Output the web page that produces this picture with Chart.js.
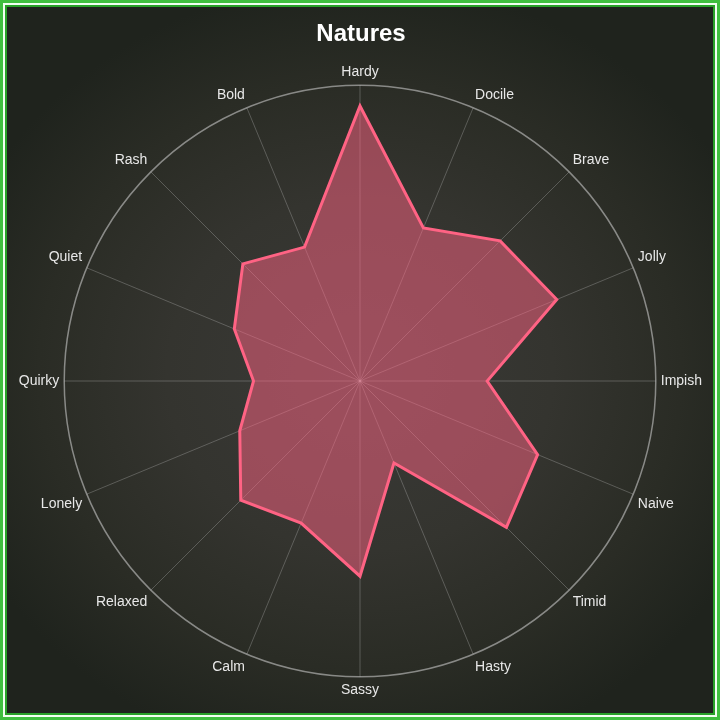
<!DOCTYPE html>
<html>
<head>
<meta charset="utf-8">
<script src="https://cdn.jsdelivr.net/npm/chart.js@4.4.1/dist/chart.umd.min.js"></script>
<style>
    html, body {
        margin: 0;
        padding: 0;
        width: 720px;
        height: 720px;
        overflow: hidden;
        background: #1f231d;
    }
    .frame {
        position: relative;
        width: 720px;
        height: 720px;
        box-sizing: border-box;
        border: 3px solid #3fbf3f;
        box-shadow: inset 0 0 0 2px #f2fff2, inset 0 0 0 4px #28a028;
        background: radial-gradient(ellipse 60% 55% at 50% 52%, #3a3a37 0%, #34342f 45%, #2a2c25 75%, #1f231d 100%);
    }
    .frame canvas {
        position: absolute;
        left: -2px;
        top: -3px;
    }
</style>
</head>
<body>
<div class="frame">
    <canvas id="naturesChart" width="720" height="720"></canvas>
</div>
<script>
// Chart data
const natureLabels = ['Hardy', 'Docile', 'Brave', 'Jolly', 'Impish', 'Naive', 'Timid', 'Hasty',
    'Sassy', 'Calm', 'Relaxed', 'Lonely', 'Quirky', 'Quiet', 'Rash', 'Bold'];
const natureValues = [93, 56, 67, 72, 43, 65, 70, 30, 66, 52, 57, 44, 36, 46, 56, 49];
const scaleMax = 100;

const ctx = document.getElementById('naturesChart');

new Chart(ctx, {
    type: 'radar',
    data: {
        labels: natureLabels,
        datasets: [{
            label: 'Natures',
            data: natureValues,
            borderColor: 'rgba(255, 99, 132, 1)',
            backgroundColor: 'rgba(255, 99, 132, 0.5)',
            borderWidth: 3,
            pointRadius: 0,
            pointHoverRadius: 0,
            fill: true
        }]
    },
    options: {
        responsive: false,
        animation: false,
        layout: {
            padding: { top: 6, bottom: 20, left: 18, right: 18 }
        },
        plugins: {
            legend: { display: false },
            tooltip: { enabled: false },
            title: {
                display: true,
                text: 'Natures',
                color: '#ffffff',
                padding: { top: 14, bottom: 14 },
                font: {
                    family: 'Liberation Sans',
                    size: 24,
                    weight: 'bold'
                }
            }
        },
        scales: {
            r: {
                min: 0,
                max: scaleMax,
                ticks: {
                    display: false,
                    stepSize: scaleMax
                },
                grid: {
                    circular: true,
                    color: 'rgba(200, 200, 200, 0.6)',
                    lineWidth: 1.5
                },
                angleLines: {
                    color: 'rgba(200, 200, 200, 0.3)',
                    lineWidth: 1
                },
                pointLabels: {
                    color: '#e8e8e8',
                    padding: 5,
                    font: {
                        family: 'Liberation Sans',
                        size: 14
                    }
                }
            }
        }
    }
});
</script>
</body>
</html>
